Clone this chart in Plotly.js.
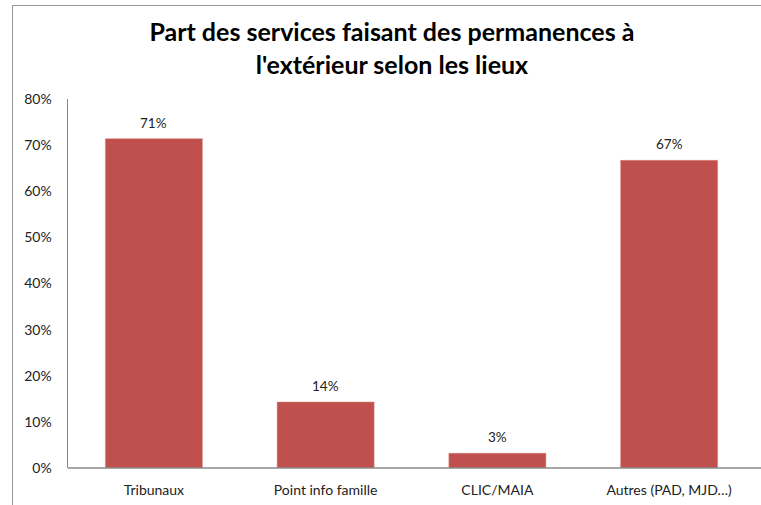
<!DOCTYPE html>
<html>
<head>
<meta charset="utf-8">
<script src="https://cdn.plot.ly/plotly-3.0.1.min.js"></script>
<style>
  html, body { margin: 0; padding: 0; background: #fff; }
  #wrap { position: relative; width: 761px; height: 505px; overflow: hidden; }
  #chart { position: absolute; left: 0; top: 0; width: 761px; height: 505px; }
  #frame { position: absolute; left: 12px; top: 5px; width: 800px; height: 600px;
           border-left: 1.5px solid #9a9a9a; border-top: 1.5px solid #9a9a9a; pointer-events: none; }
</style>
</head>
<body>
<div id="wrap">
  <div id="chart"></div>
  <div id="frame"></div>
</div>
<script>
const categories = ["Tribunaux", "Point info famille", "CLIC/MAIA", "Autres (PAD, MJD…)"];
const values = [71.4, 14.3, 3.2, 66.7];
const valueLabels = ["71%", "14%", "3%", "67%"];
const tickValues = [0, 10, 20, 30, 40, 50, 60, 70, 80];
const tickLabels = tickValues.map(v => v + "%");

const font = "Lato, 'Open Sans', 'Liberation Sans', sans-serif";

const trace = {
  type: "bar",
  x: categories,
  y: values,
  marker: { color: "#C0504D", line: { color: "#D9807D", width: 0.5 } },
  hoverinfo: "none"
};

const annotations = categories.map((c, i) => ({
  x: c, y: values[i], xref: "x", yref: "y",
  text: valueLabels[i],
  showarrow: false,
  yanchor: "bottom",
  yshift: 6,
  font: { family: font, size: 13.5, color: "#222" }
}));

const layout = {
  width: 761,
  height: 505,
  margin: { l: 68, r: 6, t: 99, b: 37 },
  paper_bgcolor: "#fff",
  plot_bgcolor: "#fff",
  showlegend: false,
  bargap: 0.435,
  title: {
    text: "<b>Part des services faisant des permanences à<br>l'extérieur selon les lieux</b>",
    font: { family: font, size: 25, color: "#000" },
    x: 0.515, xanchor: "center",
    yref: "container",
    y: 0.918, yanchor: "middle"
  },
  xaxis: {
    type: "category",
    showline: false,
    showgrid: false,
    zeroline: false,
    ticks: "",
    ticklabelstandoff: 12,
    tickfont: { family: font, size: 14, color: "#222" }
  },
  yaxis: {
    range: [0, 80],
    tickmode: "array",
    tickvals: tickValues,
    ticktext: tickLabels,
    showgrid: false,
    zeroline: false,
    showline: true,
    linecolor: "#8a8a8a",
    linewidth: 1.5,
    ticks: "",
    ticklabelstandoff: 12,
    tickfont: { family: font, size: 14, color: "#222" }
  },
  annotations: annotations,
  shapes: [
    { type: "line", xref: "paper", yref: "paper", x0: 0, x1: 1.02, y0: 0, y1: 0,
      line: { color: "#8a8a8a", width: 1.5 } }
  ]
};

Plotly.newPlot("chart", [trace], layout, { displayModeBar: false, staticPlot: true });
</script>
</body>
</html>
